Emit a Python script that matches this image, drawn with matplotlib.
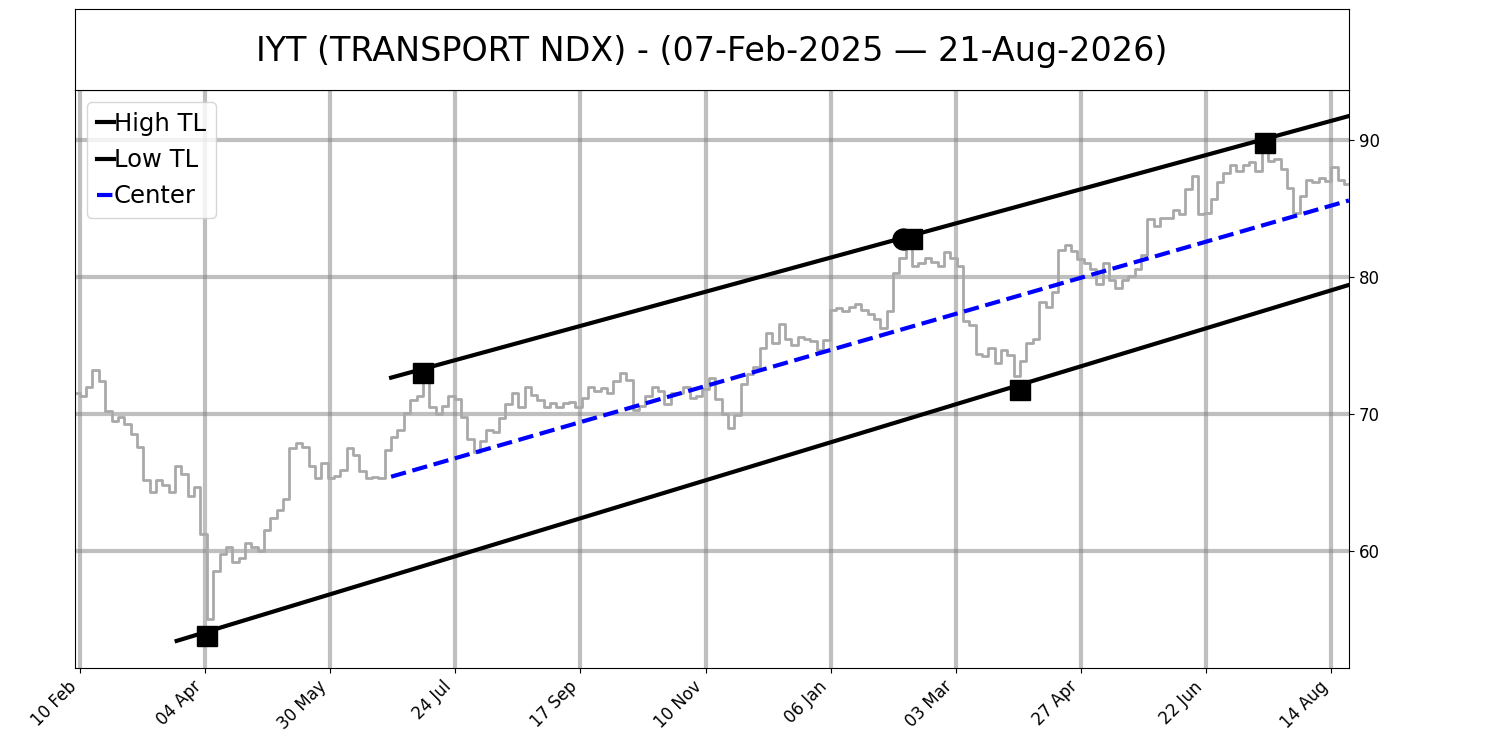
import numpy as np
import matplotlib
matplotlib.use("Agg")
import matplotlib.pyplot as plt

TITLE = "IYT (TRANSPORT NDX) - (07-Feb-2025 \u2014 21-Aug-2026)"
N_DAYS = 401  # trading days shown, 07-Feb-2025 .. 21-Aug-2026

price = [
    71.5, 71.3, 72.0, 73.2, 72.4, 70.2, 69.5, 69.8, 69.3, 68.5,
    67.6, 65.2, 64.3, 65.2, 64.8, 64.3, 66.2, 65.6, 64.0, 64.7,
    61.2, 55.0, 58.5, 59.8, 60.3, 59.2, 59.5, 60.6, 60.3, 60.0,
    61.5, 62.4, 63.0, 63.8, 67.5, 67.9, 67.6, 66.2, 65.3, 66.4,
    65.3, 65.5, 65.9, 67.5, 67.0, 65.8, 65.3, 65.4, 65.3, 67.4,
    68.3, 68.8, 70.1, 71.0, 71.3, 72.5, 70.5, 70.0, 70.6, 71.3,
    71.1, 69.8, 68.2, 67.2, 68.0, 68.8, 68.7, 69.7, 70.7, 71.5,
    70.5, 72.0, 71.4, 71.0, 70.5, 70.8, 70.5, 70.8, 70.9, 70.5,
    71.2, 72.0, 71.7, 71.9, 71.5, 72.4, 73.0, 72.5, 70.3, 70.6,
    71.3, 72.0, 71.7, 70.7, 71.5, 71.5, 72.0, 71.2, 71.3, 71.8,
    72.6, 71.1, 70.0, 69.0, 69.9, 72.2, 72.9, 73.4, 74.8, 75.9,
    75.2, 76.6, 75.5, 75.0, 75.6, 75.5, 75.3, 74.7, 75.4, 77.6,
    77.7, 77.5, 77.8, 78.0, 77.6, 77.3, 76.9, 76.3, 77.5, 80.3,
    81.4, 82.2, 80.8, 81.0, 81.4, 81.1, 80.8, 81.8, 81.4, 80.8,
    76.8, 76.5, 74.4, 74.2, 74.8, 73.7, 74.7, 74.3, 72.8, 73.9,
    75.2, 75.5, 78.2, 77.8, 78.9, 82.0, 82.3, 81.9, 81.3, 81.0,
    80.6, 79.5, 81.0, 79.8, 79.2, 79.8, 80.1, 80.6, 81.6, 84.2,
    83.7, 84.3, 84.3, 84.9, 84.6, 86.4, 87.4, 84.6, 84.7, 85.7,
    86.9, 87.6, 88.2, 87.7, 88.2, 88.4, 87.7, 89.3, 88.5, 88.6,
    87.9, 86.5, 84.7, 85.9, 87.1, 86.9, 87.2, 87.0, 88.0, 87.1,
    86.8,
]

# trend lines: (day index, price) at start and at right edge
high_tl_x = [99, 400.5]
high_tl_y = [72.65, 91.75]
low_tl_x = [31.5, 400.5]
low_tl_y = [53.43, 79.42]

# pivot markers
high_pivot_x = [109, 263, 374]
high_pivot_y = [73.0, 82.8, 89.8]
low_pivot_x = [41, 297]
low_pivot_y = [53.8, 71.75]
touch_x = [260]       # round marker on the high line
touch_y = [82.8]

tick_labels = ["10 Feb", "04 Apr", "30 May", "24 Jul", "17 Sep", "10 Nov",
               "06 Jan", "03 Mar", "27 Apr", "22 Jun", "14 Aug"]

days = np.arange(N_DAYS)
price_x = days[::2]
assert len(price_x) == len(price)

# center line = midpoint of the two trend lines over the common span
cx = np.array([max(high_tl_x[0], low_tl_x[0]), high_tl_x[1]])
cy = (np.interp(cx, high_tl_x, high_tl_y) +
      np.interp(cx, low_tl_x, low_tl_y)) / 2

fig = plt.figure(figsize=(15, 7.5), dpi=100)
ax = fig.add_axes([0.05, 0.1093, 0.8493, 0.7707])
tax = fig.add_axes([0.05, 0.88, 0.8493, 0.108])

tax.set_xticks([])
tax.set_yticks([])
tax.text(0.5, 0.47, TITLE, ha="center", va="center", fontsize=24,
         transform=tax.transAxes)

ax.set_axisbelow(True)
ax.grid(True, color="grey", alpha=0.5, lw=3)
ax.plot(price_x, price, color="darkgray", lw=2, drawstyle="steps-mid")
ax.plot(high_tl_x, high_tl_y, color="black", lw=3, label="High TL")
ax.plot(low_tl_x, low_tl_y, color="black", lw=3, label="Low TL")
ax.plot(cx, cy, color="blue", lw=3, ls="--", label="Center")
ax.plot(high_pivot_x, high_pivot_y, "s", color="black", ms=15)
ax.plot(low_pivot_x, low_pivot_y, "s", color="black", ms=15)
ax.plot(touch_x, touch_y, "o", color="black", ms=15)

ax.set_xlim(-0.5, N_DAYS - 0.5)
ax.set_ylim(51.45, 93.65)
ax.set_xticks(np.linspace(1, N_DAYS - 6, len(tick_labels)))
ax.set_xticklabels(tick_labels, rotation=45, ha="right", fontsize=12)
ax.set_yticks([60, 70, 80, 90])
ax.yaxis.tick_right()
ax.tick_params(axis="y", labelsize=12)

ax.legend(loc="upper left", fontsize=17.5, handlelength=0.7,
          handletextpad=0.0)

fig.savefig("out.png", dpi=100)
